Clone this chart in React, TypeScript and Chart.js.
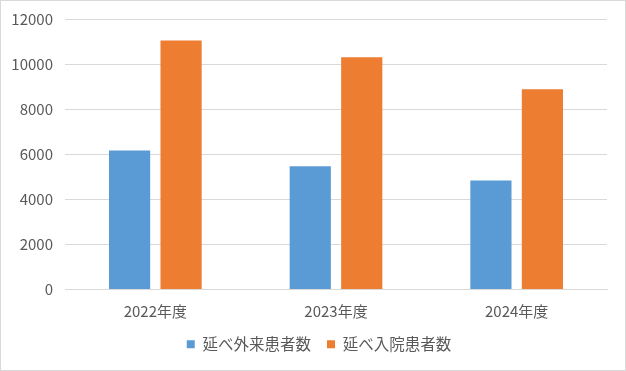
import React, { useEffect, useRef } from "react";
import { Chart, registerables } from "chart.js";

Chart.register(...registerables);

const categories = ["2022年度", "2023年度", "2024年度"];
const outpatients = [6170, 5470, 4830];
const inpatients = [11050, 10300, 8880];
const seriesNames = ["延べ外来患者数", "延べ入院患者数"];
const yTicks = [0, 2000, 4000, 6000, 8000, 10000, 12000];

const FONT = "'Noto Sans CJK JP', 'Noto Sans', sans-serif";

const legendShift = {
  id: "legendShift",
  afterLayout(chart: any) {
    if (chart.legend) {
      chart.legend.left += 30;
    }
  },
};

export default function App() {
  const ref = useRef<HTMLCanvasElement | null>(null);
  useEffect(() => {
    if (!ref.current) return;
    const chart = new Chart(ref.current, {
      type: "bar",
      data: {
        labels: categories,
        datasets: [
          {
            label: seriesNames[0],
            data: outpatients,
            backgroundColor: "#5B9BD5",
            barPercentage: 0.8,
            categoryPercentage: 0.57,
          },
          {
            label: seriesNames[1],
            data: inpatients,
            backgroundColor: "#ED7D31",
            barPercentage: 0.8,
            categoryPercentage: 0.57,
          },
        ],
      },
      plugins: [legendShift],
      options: {
        animation: false,
        responsive: false,
        devicePixelRatio: 1,
        layout: { padding: { left: 0, right: 18, top: 12, bottom: 8 } },
        plugins: {
          legend: {
            position: "bottom",
            labels: {
              boxWidth: 8,
              boxHeight: 8,
              padding: 16,
              color: "#595959",
              font: { family: FONT, size: 15.5 },
            },
          },
          tooltip: { enabled: false },
        },
        scales: {
          x: {
            grid: { display: false, drawTicks: false },
            border: { display: true, color: "#d9d9d9" },
            ticks: { color: "#595959", font: { family: FONT, size: 15 }, padding: 13 },
            afterFit: (s: any) => {
              s.height = 31;
            },
          },
          y: {
            min: 0,
            max: 12000,
            afterBuildTicks: (s: any) => {
              s.ticks = yTicks.map((v) => ({ value: v }));
            },
            grid: { color: "#d9d9d9", drawTicks: false },
            border: { display: false },
            ticks: {
              color: "#595959",
              font: { family: FONT, size: 15, lineHeight: 0.8 },
              padding: 12,
              callback: (v: any) => String(v),
            },
            afterFit: (s: any) => {
              s.width = 64;
            },
          },
        },
      },
    });
    return () => chart.destroy();
  }, []);
  return (
    <div
      style={{
        position: "absolute",
        left: 0,
        top: 0,
        width: 626,
        height: 371,
        boxSizing: "border-box",
        border: "1px solid #d9d9d9",
        background: "#fff",
      }}
    >
      <canvas ref={ref} width={624} height={369} style={{ display: "block" }} />
    </div>
  );
}
